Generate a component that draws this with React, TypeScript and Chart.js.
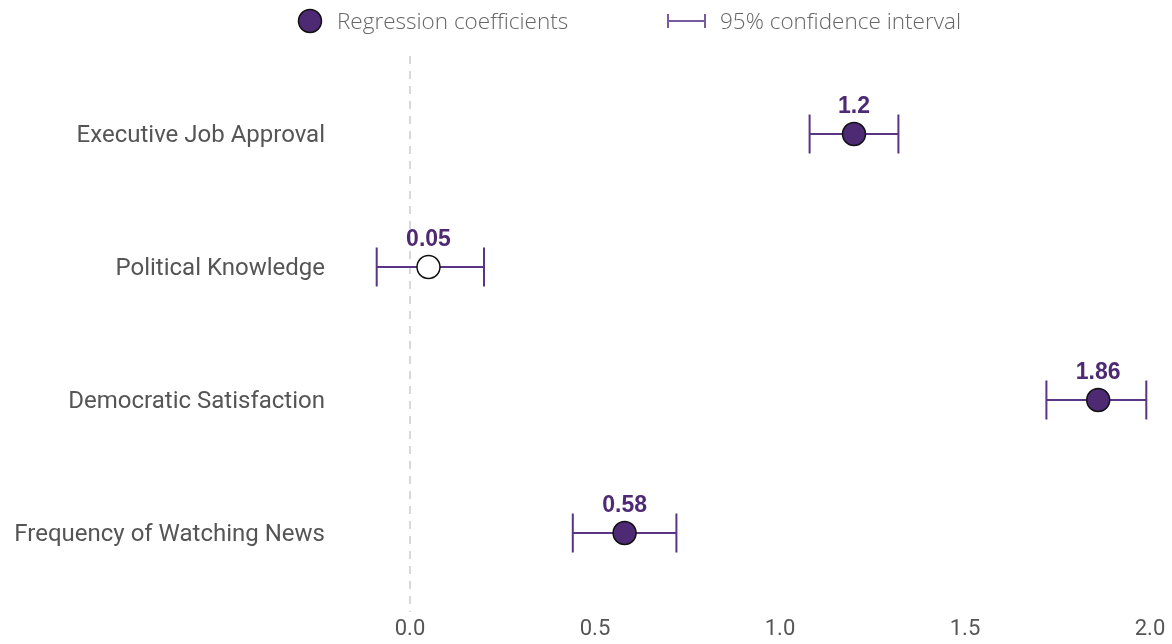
import React, { useEffect, useRef } from 'react';
import { Chart, registerables } from 'chart.js';

Chart.register(...registerables);

const categories = [
  'Executive Job Approval',
  'Political Knowledge',
  'Democratic Satisfaction',
  'Frequency of Watching News',
];
const coefficients = [1.2, 0.05, 1.86, 0.58];
const ciLower = [1.08, -0.09, 1.72, 0.44];
const ciUpper = [1.32, 0.2, 1.99, 0.72];
const significant = [true, false, true, true];
const xTicks = [0, 0.5, 1.0, 1.5, 2.0];
const legendLabels = ['Regression coefficients', '95% confidence interval'];

const PURPLE = '#4f2a74';
const BAR = '#5a3586';
const LEGEND_BAR = '#7a5a9e';

const overlayPlugin = {
  id: 'overlay',
  beforeDatasetsDraw(chart: any) {
    const { ctx, chartArea, scales } = chart;
    const x = scales.x;
    const y = scales.y;
    ctx.save();
    // zero reference line
    const zx = Math.round(x.getPixelForValue(0));
    ctx.strokeStyle = '#d8d8d8';
    ctx.lineWidth = 2;
    ctx.setLineDash([8, 7]);
    ctx.beginPath();
    ctx.moveTo(zx, chartArea.top - 11.5);
    ctx.lineTo(zx, chartArea.bottom + 12.5);
    ctx.stroke();
    ctx.setLineDash([]);
    // error bars
    ctx.strokeStyle = BAR;
    ctx.lineWidth = 2;
    categories.forEach((_, i) => {
      const py = y.getPixelForValue(i);
      const x1 = x.getPixelForValue(ciLower[i]);
      const x2 = x.getPixelForValue(ciUpper[i]);
      ctx.beginPath();
      ctx.moveTo(x1, py);
      ctx.lineTo(x2, py);
      ctx.moveTo(x1, py - 19.5);
      ctx.lineTo(x1, py + 19.5);
      ctx.moveTo(x2, py - 19.5);
      ctx.lineTo(x2, py + 19.5);
      ctx.stroke();
    });
    ctx.restore();
  },
  afterDatasetsDraw(chart: any) {
    const { ctx, scales } = chart;
    const x = scales.x;
    const y = scales.y;
    ctx.save();
    ctx.fillStyle = PURPLE;
    ctx.font = 'bold 23px "Liberation Sans", Arial, sans-serif';
    ctx.textAlign = 'center';
    ctx.textBaseline = 'middle';
    coefficients.forEach((v, i) => {
      const px = x.getPixelForValue(v);
      const py = y.getPixelForValue(i);
      ctx.fillText(String(v), px, py - 27);
    });
    ctx.restore();
  },
  afterDraw(chart: any) {
    const { ctx } = chart;
    ctx.save();
    const ly = 21;
    // item 1: circle
    ctx.beginPath();
    ctx.arc(310, ly, 11.5, 0, Math.PI * 2);
    ctx.fillStyle = PURPLE;
    ctx.fill();
    ctx.lineWidth = 1.5;
    ctx.strokeStyle = '#111';
    ctx.stroke();
    ctx.font = '300 22.5px "Open Sans", sans-serif';
    ctx.fillStyle = '#666';
    ctx.textAlign = 'left';
    ctx.textBaseline = 'middle';
    ctx.fillText(legendLabels[0], 337, ly + 2);
    // item 2: error bar icon
    ctx.strokeStyle = LEGEND_BAR;
    ctx.lineWidth = 2;
    ctx.beginPath();
    ctx.moveTo(667, ly);
    ctx.lineTo(705, ly);
    ctx.moveTo(668, ly - 7);
    ctx.lineTo(668, ly + 7);
    ctx.moveTo(705, ly - 7);
    ctx.lineTo(705, ly + 7);
    ctx.stroke();
    ctx.fillText(legendLabels[1], 720, ly + 2);
    ctx.restore();
  },
};

export default function App() {
  const canvasRef = useRef<HTMLCanvasElement | null>(null);

  useEffect(() => {
    if (!canvasRef.current) return;
    const chart = new Chart(canvasRef.current, {
      type: 'scatter',
      data: {
        datasets: [
          {
            label: legendLabels[0],
            data: coefficients.map((v, i) => ({ x: v, y: categories[i] as any })),
            pointRadius: 11.5,
            pointHoverRadius: 11.5,
            pointBackgroundColor: significant.map((s) => (s ? PURPLE : '#ffffff')),
            pointBorderColor: '#111111',
            pointBorderWidth: 1.5,
          },
        ],
      },
      plugins: [overlayPlugin],
      options: {
        animation: false,
        responsive: true,
        maintainAspectRatio: false,
        layout: { padding: { top: 67.5, left: 0, right: 0, bottom: 0 } },
        plugins: {
          legend: { display: false },
          tooltip: { enabled: false },
        },
        scales: {
          x: {
            type: 'linear',
            min: -0.2,
            max: 2.0,
            afterBuildTicks: (s: any) => {
              s.ticks = xTicks.map((v) => ({ value: v }));
            },
            afterFit: (s: any) => {
              s.height = 44.5;
              s.paddingRight = 22;
              s.paddingLeft = 0;
            },
            grid: { display: false, drawTicks: false },
            border: { display: false },
            ticks: {
              padding: 17,
              color: '#555',
              font: { family: 'Roboto', size: 22 },
              callback: (v: any) => Number(v).toFixed(1),
            },
          },
          y: {
            type: 'category',
            labels: categories,
            offset: true,
            afterFit: (s: any) => {
              s.width = 336;
            },
            grid: { display: false, drawTicks: false },
            border: { display: false },
            ticks: {
              padding: 11,
              labelOffset: 2,
              color: '#555',
              font: { family: 'Roboto', size: 24 },
            },
          },
        },
      },
    });
    return () => chart.destroy();
  }, []);

  return (
    <div style={{ position: 'fixed', left: 0, top: 0, width: 1172, height: 644 }}>
      <canvas ref={canvasRef} />
    </div>
  );
}
